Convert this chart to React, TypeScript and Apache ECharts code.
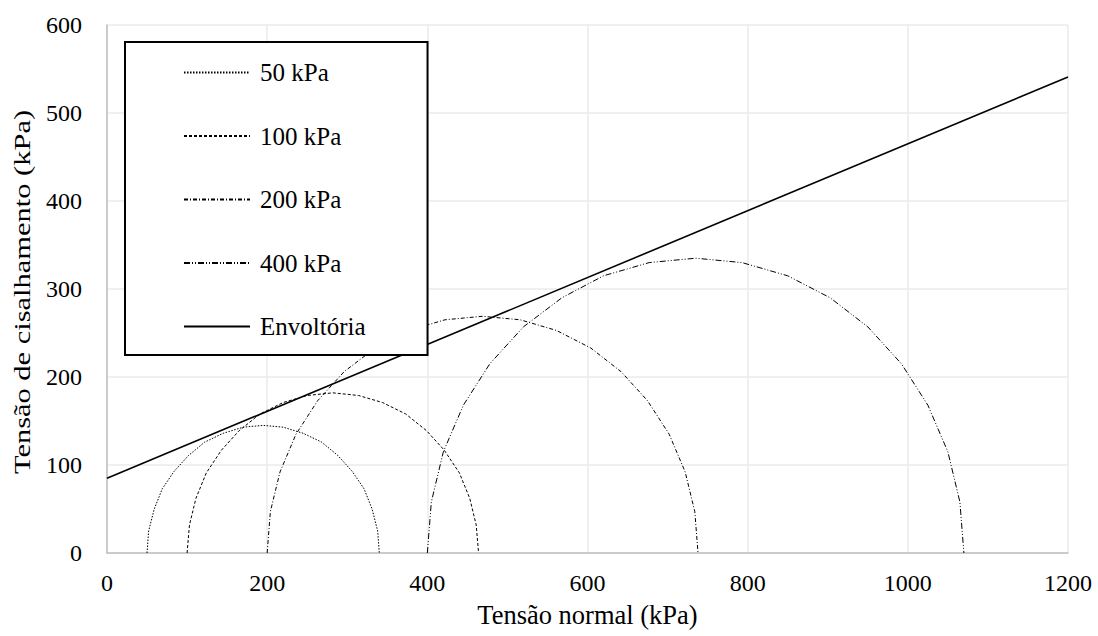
import React, { useEffect, useRef } from "react";
import * as echarts from "echarts";

const xTicks = { min: 0, max: 1200, interval: 200 };
const yTicks = { min: 0, max: 600, interval: 100 };

const xTitle = "Tensão normal (kPa)";
const yTitle = "Tensão de cisalhamento (kPa)";
const seriesNames = ["50 kPa", "100 kPa", "200 kPa", "400 kPa", "Envoltória"];

const circle50: [number, number][] = [
  [50, 0], [52, 25], [59, 50], [69, 73], [84, 93], [102, 111], [122, 126], [145, 136], [170, 143],
  [195, 145], [220, 143], [245, 136], [268, 126], [288, 111], [306, 93], [321, 73], [331, 50], [338, 25], [340, 0],
];
const circle100: [number, number][] = [
  [100, 0], [103, 32], [111, 62], [124, 91], [143, 117], [165, 139], [191, 158], [220, 171], [250, 179],
  [282, 182], [314, 179], [344, 171], [373, 158], [399, 139], [421, 117], [440, 91], [453, 62], [461, 32], [464, 0],
];
const circle200: [number, number][] = [
  [200, 0], [204, 47], [216, 92], [236, 135], [263, 173], [296, 206], [335, 233], [377, 253], [422, 265],
  [469, 269], [516, 265], [561, 253], [604, 233], [642, 206], [675, 173], [702, 135], [722, 92], [734, 47], [738, 0],
];
const circle400: [number, number][] = [
  [400, 0], [405, 58], [420, 115], [445, 168], [478, 215], [520, 257], [568, 290], [620, 315], [677, 330],
  [735, 335], [793, 330], [850, 315], [903, 290], [950, 257], [992, 215], [1025, 168], [1050, 115], [1065, 58], [1070, 0],
];
const envelope: [number, number][] = [[0, 85], [1200, 541]];

const seriesData = [circle50, circle100, circle200, circle400, envelope];
const dashTypes: any[] = [[1.5, 1.5], [3, 2], [4, 2, 1, 2], [6, 2, 1, 2, 1, 2], "solid"];
const widths = [1, 1, 1, 1, 1.6];

const FONT = "Liberation Serif";

export default function App() {
  const ref = useRef<HTMLDivElement>(null);
  useEffect(() => {
    if (!ref.current) return;
    const chart = echarts.init(ref.current, undefined, { renderer: "svg" });
    const txt = { fontFamily: FONT, fontSize: 24, color: "#000" };
    chart.setOption({
      animation: false,
      backgroundColor: "#ffffff",
      textStyle: txt,
      grid: { left: 107, right: 30, top: 25, bottom: 83, containLabel: false },
      legend: {
        orient: "vertical",
        left: 125,
        top: 42,
        data: seriesNames,
        itemWidth: 66,
        itemHeight: 24,
        itemGap: 38.5,
        padding: [18, 62, 16, 58],
        borderColor: "#000",
        borderWidth: 2,
        backgroundColor: "#fff",
        itemStyle: { opacity: 0 },
        textStyle: { ...txt, fontSize: 25, lineHeight: 24, padding: [0, 0, 0, 5] },
        selectedMode: false,
      },
      graphic: [
        {
          type: "text",
          x: 22,
          y: 292,
          rotation: Math.PI / 2,
          scaleX: 1.27,
          style: {
            text: yTitle,
            fontFamily: FONT,
            fontSize: 24,
            fill: "#000",
            align: "center",
            verticalAlign: "middle",
          },
        },
      ],
      xAxis: {
        type: "value",
        min: xTicks.min,
        max: xTicks.max,
        interval: xTicks.interval,
        name: xTitle,
        nameLocation: "middle",
        nameGap: 48,
        nameTextStyle: { ...txt, fontSize: 26.5 },
        axisLine: { show: true, lineStyle: { color: "#bfbfbf", width: 1.5 } },
        axisTick: { show: false },
        axisLabel: { ...txt, margin: 18, formatter: (v: number) => String(v) },
        splitLine: { show: true, lineStyle: { color: "#ebebeb", width: 1.5 } },
      },
      yAxis: {
        type: "value",
        min: yTicks.min,
        max: yTicks.max,
        interval: yTicks.interval,
        axisLine: { show: true, lineStyle: { color: "#bfbfbf", width: 1.5 } },
        axisTick: { show: false },
        axisLabel: { ...txt, margin: 25, formatter: (v: number) => String(v) },
        splitLine: { show: true, lineStyle: { color: "#ebebeb", width: 1.5 } },
      },
      series: seriesNames.map((name, i) => ({
        name,
        type: "line",
        data: seriesData[i],
        symbol: "none",
        smooth: false,
        clip: true,
        lineStyle: { color: "#000", width: widths[i], type: dashTypes[i] },
        itemStyle: { color: "#000" },
        z: i === 4 ? 3 : 2,
      })),
    });
    return () => chart.dispose();
  }, []);
  return (
    <div
      ref={ref}
      style={{ position: "absolute", left: 0, top: 0, width: 1098, height: 636 }}
    />
  );
}
